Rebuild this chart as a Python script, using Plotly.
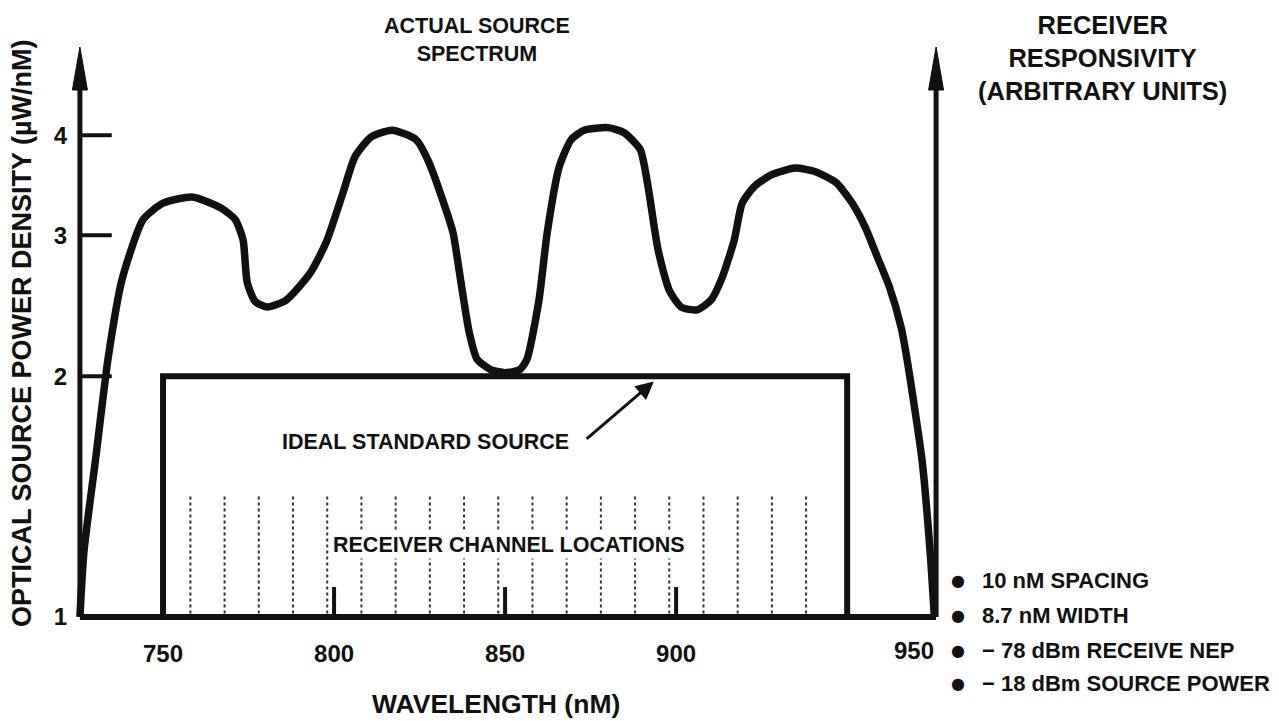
import plotly.graph_objects as go
import math

# ---------------- data ----------------
spectrum_nm = [725.7, 726.9, 730.4, 733.9, 738.0, 744.2, 750.0, 758.5, 766.7, 771.1,
               773.4, 774.6, 776.9, 780.4, 786.0, 793.0, 797.7, 802.6, 806.1, 810.8,
               817.0, 824.0, 827.5, 832.5, 834.8, 837.1, 839.5, 841.8, 845.6, 850.0,
               854.4, 856.4, 859.9, 862.3, 865.8, 869.3, 873.1, 880.1, 884.8, 889.5,
               891.8, 894.7, 898.0, 901.5, 906.1, 910.2, 913.5, 917.0, 919.3, 922.8,
               927.8, 934.8, 940.9, 946.8, 951.5, 955.3, 958.8, 962.3, 965.8, 967.5,
               971.9, 974.3, 975.5]
spectrum_density = [1.00, 1.21, 1.59, 2.10, 2.64, 3.14, 3.29, 3.35, 3.25, 3.14,
                    2.96, 2.62, 2.48, 2.44, 2.49, 2.69, 2.94, 3.39, 3.76, 3.98,
                    4.06, 3.95, 3.72, 3.25, 3.02, 2.62, 2.27, 2.10, 2.04, 2.02,
                    2.04, 2.10, 2.49, 3.02, 3.65, 3.95, 4.06, 4.09, 4.03, 3.84,
                    3.45, 2.88, 2.56, 2.44, 2.42, 2.49, 2.66, 2.96, 3.29, 3.45,
                    3.57, 3.64, 3.60, 3.49, 3.29, 3.07, 2.82, 2.59, 2.30, 2.10,
                    1.57, 1.20, 1.00]

ideal_nm = [750, 750, 950, 950]
ideal_density = [1.0, 2.0, 2.0, 1.0]

channel_nm = [758 + 10 * k for k in range(19)]
marker_nm = [800, 850, 900]

x_tick_vals = [750, 800, 850, 900]
x_tick_text = ["750", "800", "850", "900"]
y_tick_vals = [1, 2, 3, 4]
y_tick_text = ["1", "2", "3", "4"]

notes = ["10 nM SPACING", "8.7 nM WIDTH", "\u2212 78 dBm RECEIVE NEP", "\u2212 18 dBm SOURCE POWER"]

# ---------------- geometry (window pixels) ----------------
X0, X1 = 722.8, 978.9          # x range (nm)
Y0, Y1 = -0.01, 0.715          # log10 range
AX_L, AX_R = 725.7, 976.0      # drawn axis positions
PL, PR, PT, PB = 70, 946, 45, 625
WIN_W, WIN_H = 1279, 721
OFF = 8                        # page body margin
W, H = WIN_W - OFF, WIN_H - OFF

def pxx(p):
    return (p - PL) / (PR - PL)

def pxy(p):
    return (PB - p) / (PB - PT)

FONT = "Liberation Sans, Arial, Helvetica, sans-serif"
BLACK = "#111111"

fig = go.Figure()

# ideal standard source box
fig.add_trace(go.Scatter(x=ideal_nm, y=ideal_density, mode="lines",
                         line=dict(color=BLACK, width=6), hoverinfo="skip"))

# channel locations (dotted)
cx, cy = [], []
for c in channel_nm:
    cx += [c, c, None]
    cy += [1.01, 1.42, None]
fig.add_trace(go.Scatter(x=cx, y=cy, mode="lines",
                         line=dict(color="#333333", width=2, dash="dot"), hoverinfo="skip"))

# heavier channel markers
mx, my = [], []
for m in marker_nm:
    mx += [m, m, None]
    my += [1.0, 1.09, None]
fig.add_trace(go.Scatter(x=mx, y=my, mode="lines",
                         line=dict(color=BLACK, width=4), hoverinfo="skip"))

# actual source spectrum
fig.add_trace(go.Scatter(x=spectrum_nm, y=spectrum_density, mode="lines",
                         line=dict(color=BLACK, width=7.5, shape="spline", smoothing=0.6),
                         hoverinfo="skip"))

# baseline
fig.add_trace(go.Scatter(x=[AX_L, AX_R], y=[1, 1], mode="lines",
                         line=dict(color=BLACK, width=6), hoverinfo="skip"))

# vertical axes with arrowheads
tip = 10 ** ((617 - 47) / 800)
base = 10 ** ((617 - 90) / 800)
hw = 7.5 / 3.42
for ax_x in (AX_L, AX_R):
    fig.add_trace(go.Scatter(x=[ax_x, ax_x], y=[1, base * 1.01], mode="lines",
                             line=dict(color=BLACK, width=5), hoverinfo="skip"))
    fig.add_trace(go.Scatter(x=[ax_x - hw, ax_x, ax_x + hw, ax_x - hw],
                             y=[base, tip, base, base], mode="lines", fill="toself",
                             fillcolor=BLACK, line=dict(color=BLACK, width=1),
                             hoverinfo="skip"))

# y tick marks
tx, ty = [], []
for v in y_tick_vals[1:]:
    tx += [AX_L, AX_L + 9.3, None]
    ty += [v, v, None]
fig.add_trace(go.Scatter(x=tx, y=ty, mode="lines",
                         line=dict(color=BLACK, width=4), hoverinfo="skip"))

ann = []

def text(px, py, s, size=24, xanchor="center", family=FONT, **kw):
    ann.append(dict(x=pxx(px), y=pxy(py), xref="paper", yref="paper", text=s,
                    showarrow=False, xanchor=xanchor, yanchor="middle",
                    font=dict(family=family, size=size, color=BLACK, weight="bold"), **kw))

text(477, 40, "ACTUAL SOURCE<br>SPECTRUM", size=21.5)
text(1102, 58, "RECEIVER<br>RESPONSIVITY<br>(ARBITRARY UNITS)", size=25.5)
text(425, 442, "IDEAL STANDARD SOURCE", size=21.5)
text(509, 545, "RECEIVER CHANNEL LOCATIONS", size=21.5, bgcolor="white")
text(496, 704, "WAVELENGTH (nM)", size=26.5)
text(914, 650, "950", size=24)
text(22, 333, "OPTICAL SOURCE POWER DENSITY (\u00b5W/nM)", size=27, textangle=-90)

note_y = [580, 615, 650, 683]
for i, n in enumerate(notes):
    text(958, note_y[i], "\u25cf", size=16, family="DejaVu Sans")
    text(980, note_y[i], n, size=22, xanchor="left")

# arrow pointing to ideal source
ann.append(dict(x=893.5, y=math.log10(1.97), ax=873.4, ay=math.log10(1.664),
                xref="x", yref="y", axref="x", ayref="y", text="",
                showarrow=True, arrowhead=2, arrowsize=1.2, arrowwidth=3,
                arrowcolor=BLACK))

fig.update_layout(
    width=W, height=H,
    margin=dict(l=PL - OFF, r=WIN_W - PR, t=PT - OFF, b=WIN_H - PB, pad=0),
    paper_bgcolor="white", plot_bgcolor="white",
    showlegend=False,
    annotations=ann,
    xaxis=dict(range=[X0, X1], showgrid=False, zeroline=False, showline=False,
               tickvals=x_tick_vals, ticktext=x_tick_text, ticks="",
               ticklabelstandoff=12,
               tickfont=dict(family=FONT, size=24, color=BLACK, weight="bold")),
    yaxis=dict(type="log", range=[Y0, Y1], showgrid=False, zeroline=False, showline=False,
               tickvals=y_tick_vals, ticktext=y_tick_text, ticks="",
               ticklabelstandoff=2,
               tickfont=dict(family=FONT, size=24, color=BLACK, weight="bold")),
)

fig.write_html("out.html")
